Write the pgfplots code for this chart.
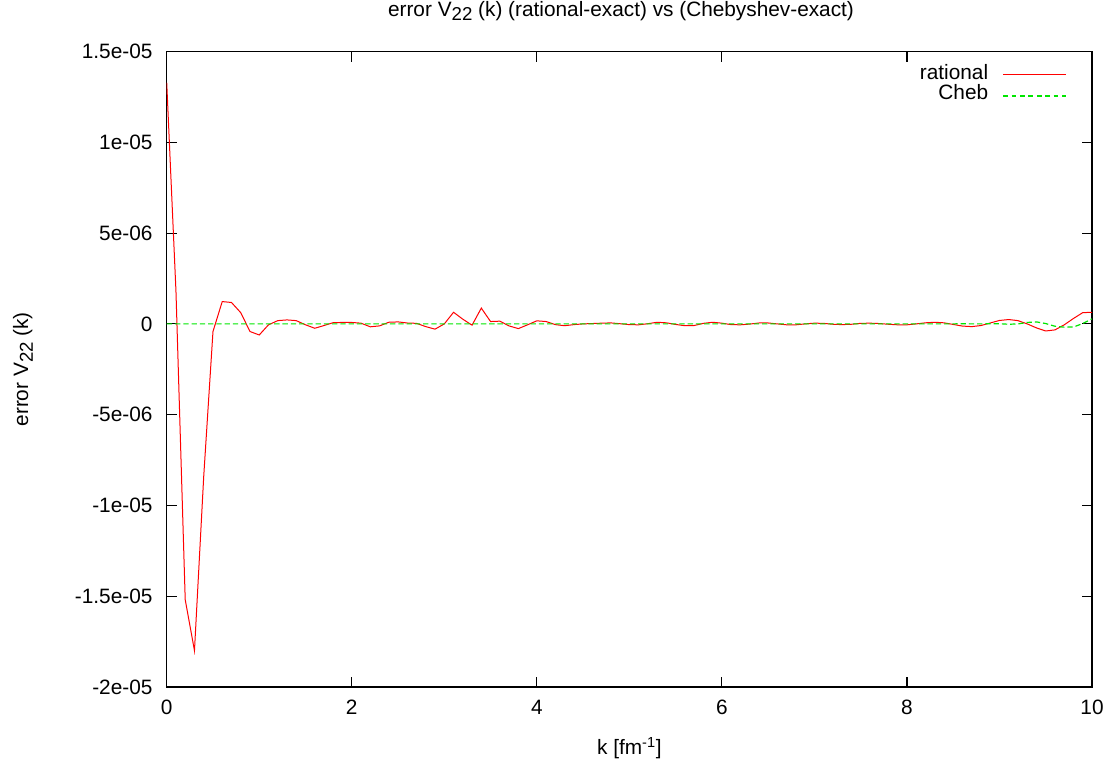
\documentclass[border=0pt]{standalone}
\usepackage{pgfplots}
\pgfplotsset{compat=1.18}
\usepackage{pgfplotstable}
\usepackage{fontspec}
\setmainfont{Liberation Sans}
\newcommand{\sub}[1]{\raisebox{-0.42ex}{\fontsize{14}{16}\selectfont #1}}
\pgfplotstableread{
k v
0.0 13.3e-6
0.1 1.8e-6
0.2 -15.2e-6
0.3 -18.0e-6
0.4 -8.4e-6
0.5 -0.42e-6
0.6 1.23e-6
0.7 1.18e-6
0.8 0.62e-6
0.9 -0.42e-6
1.0 -0.61e-6
1.1 -0.05e-6
1.2 0.18e-6
1.3 0.22e-6
1.4 0.18e-6
1.5 -0.05e-6
1.6 -0.24e-6
1.7 -0.09e-6
1.8 0.07e-6
1.9 0.08e-6
2.0 0.08e-6
2.1 0.04e-6
2.2 -0.16e-6
2.3 -0.11e-6
2.4 0.09e-6
2.5 0.11e-6
2.6 0.05e-6
2.7 0.03e-6
2.8 -0.15e-6
2.9 -0.29e-6
3.0 0.0
3.1 0.64e-6
3.2 0.26e-6
3.3 -0.07e-6
3.4 0.87e-6
3.5 0.13e-6
3.6 0.15e-6
3.7 -0.11e-6
3.8 -0.26e-6
3.9 -0.05e-6
4.0 0.17e-6
4.1 0.13e-6
4.2 -0.04e-6
4.3 -0.10e-6
4.4 -0.04e-6
4.5 0.0
4.6 0.02e-6
4.7 0.04e-6
4.8 0.055e-6
4.9 0.01e-6
5.0 -0.04e-6
5.1 -0.05e-6
5.2 0.01e-6
5.3 0.09e-6
5.4 0.06e-6
5.5 -0.03e-6
5.6 -0.10e-6
5.7 -0.09e-6
5.8 0.03e-6
5.9 0.09e-6
6.0 0.04e-6
6.1 -0.04e-6
6.2 -0.05e-6
6.3 -0.01e-6
6.4 0.05e-6
6.5 0.05e-6
6.6 0.0
6.7 -0.05e-6
6.8 -0.05e-6
6.9 0.0
7.0 0.04e-6
7.1 0.03e-6
7.2 -0.02e-6
7.3 -0.04e-6
7.4 -0.02e-6
7.5 0.03e-6
7.6 0.04e-6
7.7 0.02e-6
7.8 -0.02e-6
7.9 -0.05e-6
8.0 -0.05e-6
8.1 0.0
8.2 0.06e-6
8.3 0.09e-6
8.4 0.06e-6
8.5 -0.03e-6
8.6 -0.12e-6
8.7 -0.15e-6
8.8 -0.09e-6
8.9 0.05e-6
9.0 0.19e-6
9.1 0.24e-6
9.2 0.18e-6
9.3 0.0
9.4 -0.22e-6
9.5 -0.39e-6
9.6 -0.33e-6
9.7 -0.05e-6
9.8 0.30e-6
9.9 0.62e-6
10.0 0.64e-6
}\rational
\pgfplotstableread{
k v
0.0 0.0
1.0 0.0
2.0 0.0
3.0 0.0
4.0 0.0
5.0 0.0
6.0 0.0
7.0 0.0
8.0 0.0
8.5 0.0
8.6 0.01e-6
8.7 0.0
8.8 0.0
8.9 0.01e-6
9.0 0.01e-6
9.1 -0.02e-6
9.2 0.0
9.3 0.08e-6
9.4 0.11e-6
9.5 0.02e-6
9.6 -0.13e-6
9.7 -0.18e-6
9.8 -0.17e-6
9.9 0.02e-6
10.0 0.28e-6
}\cheb
\definecolor{gpgreen}{RGB}{0,230,0}
\begin{document}
\begin{tikzpicture}[font=\fontsize{15.6}{18}\selectfont]
\begin{axis}[
  name=ax,
  scale only axis,
  width=693.75pt, height=476.25pt,
  xmin=0, xmax=10, ymin=-2e-5, ymax=1.5e-5,
  xtick={0,2,4,6,8,10},
  xticklabels={0,2,4,6,8,10},
  ytick={-2e-5,-1.5e-5,-1e-5,-5e-6,0,5e-6,1e-5,1.5e-5},
  yticklabels={-2e-05,-1.5e-05,-1e-05,-5e-06,0,5e-06,1e-05,1.5e-05},
  scaled ticks=false,
  minor tick num=0,
  tick align=inside,
  major tick length=7.5pt,
  tick style={black, line width=0.9pt},
  axis line style={black, line width=1pt},
  yticklabel style={inner sep=0pt, anchor=east, xshift=-10.5pt},
  xticklabel style={inner sep=0pt, anchor=north, yshift=-10pt},
  title={error V\sub{22} (k) (rational-exact) vs (Chebyshev-exact)},
  title style={at={(axis description cs:0.491,1)}, anchor=base, yshift=20.5pt, inner sep=0pt},
  xlabel={k [fm\textsuperscript{-1}]},
  xlabel style={at={(axis description cs:0.5,0)}, anchor=base, yshift=-50.5pt, inner sep=0pt},
  ylabel={error V\sub{22} (k)},
  ylabel style={at={(axis description cs:-0.1554,0.5)}, anchor=center, rotate=0, inner sep=0pt},
  legend cell align=right,
  legend plot pos=right,
  legend style={draw=none, fill=none, inner sep=0pt, outer sep=0pt,
    at={(axis description cs:0.973,0.9797)}, anchor=north east,
    column sep=10.5pt,
    nodes={inner sep=0pt, text height=11pt, text depth=4.5pt}},
]
\addplot[draw=red, line width=0.75pt,
  legend image code/.code={\draw[red, line width=0.8pt] (0pt,0pt) -- (47pt,0pt);}] table[x=k, y=v] {\rational};
\addlegendentry{rational}
\addplot[draw=gpgreen, line width=0.9pt, dash pattern=on 4pt off 2.2pt,
  legend image code/.code={\draw[gpgreen, line width=1.6pt, dash pattern=on 3.5pt off 2.8pt] (0pt,0pt) -- (47pt,0pt);}] table[x=k, y=v] {\cheb};
\addlegendentry{Cheb}
\end{axis}
\pgfresetboundingbox
\path[use as bounding box] ([xshift=-125pt,yshift=-59.5pt]ax.south west) rectangle ([xshift=18.75pt,yshift=38.75pt]ax.north east);
\end{tikzpicture}
\end{document}
